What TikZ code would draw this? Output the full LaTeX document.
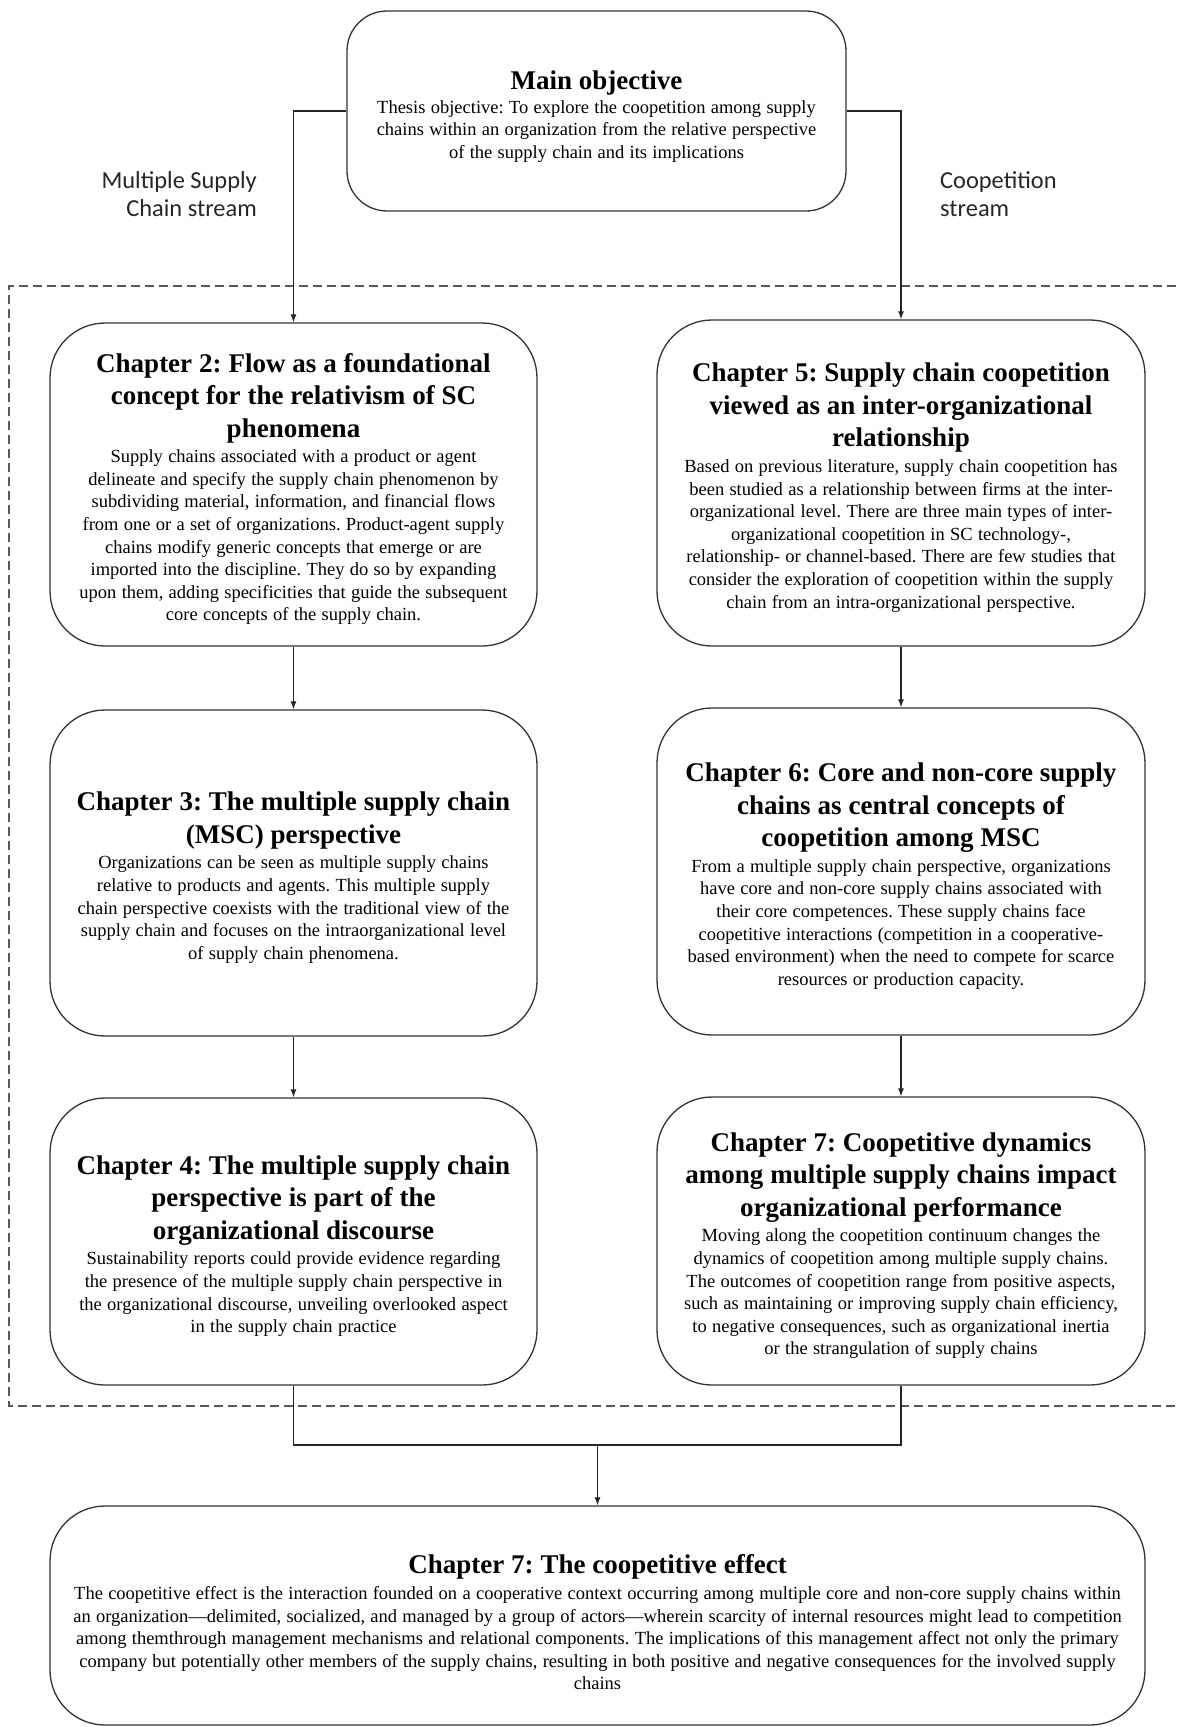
\documentclass[tikz,border=0pt]{standalone}
\usepackage{fontspec}
\setmainfont{Liberation Serif}
\newfontfamily\labelfont{Carlito}
\usetikzlibrary{arrows.meta}
\frenchspacing
\newcommand\chtitle{\fontsize{27}{32.5}\selectfont\bfseries\frenchspacing\spaceskip=6.9pt\relax}
\newcommand\chbody{\fontsize{18.5}{22.6}\selectfont\frenchspacing\spaceskip=5.3pt\relax}
% strut that sets the space above the first title line
\newcommand\topstrut[1]{\rule{0pt}{#1}}
\tikzset{
  box/.style={draw=black!80, line width=1.3pt, fill=white, rounded corners=55pt,
    align=flush center, inner sep=0pt},
  chbox/.style={box, minimum width=487pt, text width=478pt},
  link/.style={draw=black!85, line width=1.2pt},
  arr/.style={link, -{Latex[length=8pt,width=6pt]}},
  streamlbl/.style={font=\labelfont\fontsize{24.4}{28.6}\selectfont, inner sep=0pt, text=black!85},
  frame/.style={draw=black!65, line width=1.2pt, dash pattern=on 9pt off 5pt}
}
\begin{document}
\begin{tikzpicture}[x=1pt,y=-1pt]
\useasboundingbox (0,0) rectangle (1176,1727);

% dashed frame around the chapter boxes (open on the right)
\draw[frame] (1190,286) -- (9,286) -- (9,1406) -- (1190,1406);

% main objective
\node[box, rounded corners=40pt, minimum width=499pt, minimum height=200pt, text width=492pt] (main) at (596.5,111)
  {{\chtitle\topstrut{30pt}Main objective\par}\vspace{1pt}{\chbody Thesis objective: To explore the coopetition among supply\\chains within an organization from the relative perspective\\of the supply chain and its implications\par}};

% stream labels
\node[streamlbl, anchor=east, align=right] (lblL) at (257,194) {Multiple Supply\\Chain stream};
\node[streamlbl, anchor=west, align=left] (lblR) at (940,194) {Coopetition\\stream};

% left column
\node[chbox, minimum height=323pt] (ch2) at (293.5,484.5)
  {{\chtitle\topstrut{28pt}Chapter 2: Flow as a foundational\\concept for the relativism of SC\\phenomena\par}\vspace{3pt}{\chbody Supply chains associated with a product or agent\\delineate and specify the supply chain phenomenon by\\subdividing material, information, and financial flows\\from one or a set of organizations. Product-agent supply\\chains modify generic concepts that emerge or are\\imported into the discipline. They do so by expanding\\upon them, adding specificities that guide the subsequent\\core concepts of the supply chain.\par}};

\node[chbox, minimum height=326pt] (ch3) at (293.5,873)
  {{\chtitle\topstrut{28pt}Chapter 3: The multiple supply chain\\(MSC) perspective\par}\vspace{3pt}{\chbody Organizations can be seen as multiple supply chains\\relative to products and agents. This multiple supply\\chain perspective coexists with the traditional view of the\\supply chain and focuses on the intraorganizational level\\of supply chain phenomena.\par}};

\node[chbox, minimum height=287pt] (ch4) at (293.5,1241.5)
  {{\chtitle\topstrut{28pt}Chapter 4: The multiple supply chain\\perspective is part of the\\organizational discourse\par}\vspace{3pt}{\chbody Sustainability reports could provide evidence regarding\\the presence of the multiple supply chain perspective in\\the organizational discourse, unveiling overlooked aspect\\in the supply chain practice\par}};

% right column
\node[chbox, minimum width=488pt, minimum height=326pt] (ch5) at (901,483)
  {{\chtitle\topstrut{28pt}Chapter 5: Supply chain coopetition\\viewed as an inter-organizational\\relationship\par}\vspace{3pt}{\chbody Based on previous literature, supply chain coopetition has\\been studied as a relationship between firms at the inter-\\organizational level. There are three main types of inter-\\organizational coopetition in SC technology-,\\relationship- or channel-based. There are few studies that\\consider the exploration of coopetition within the supply\\chain from an intra-organizational perspective.\par}};

\node[chbox, minimum width=488pt, minimum height=327pt] (ch6) at (901,871.5)
  {{\chtitle\topstrut{28pt}Chapter 6: Core and non-core supply\\chains as central concepts of\\coopetition among MSC\par}\vspace{3pt}{\chbody From a multiple supply chain perspective, organizations\\have core and non-core supply chains associated with\\their core competences. These supply chains face\\coopetitive interactions (competition in a cooperative-\\based environment) when the need to compete for scarce\\resources or production capacity.\par}};

\node[chbox, minimum width=488pt, minimum height=288pt] (ch7) at (901,1241)
  {{\chtitle\topstrut{28pt}Chapter 7: Coopetitive dynamics\\among multiple supply chains impact\\organizational performance\par}\vspace{3pt}{\chbody Moving along the coopetition continuum changes the\\dynamics of coopetition among multiple supply chains.\\The outcomes of coopetition range from positive aspects,\\such as maintaining or improving supply chain efficiency,\\to negative consequences, such as organizational inertia\\or the strangulation of supply chains\par}};

% synthesis box
\node[box, minimum width=1095pt, minimum height=219pt, text width=1090pt] (effect) at (597.5,1615.5)
  {{\chtitle\topstrut{33pt}Chapter 7: The coopetitive effect\par}\vspace{3pt}{\chbody The coopetitive effect is the interaction founded on a cooperative context occurring among multiple core and non-core supply chains within\\an organization—delimited, socialized, and managed by a group of actors—wherein scarcity of internal resources might lead to competition\\among themthrough management mechanisms and relational components. The implications of this management affect not only the primary\\company but potentially other members of the supply chains, resulting in both positive and negative consequences for the involved supply\\chains\par}};

% connectors
\draw[arr] (main.west) -| (ch2.north);
\draw[arr] (main.east) -| (ch5.north);
\draw[arr] (ch2.south) -- (ch3.north);
\draw[arr] (ch3.south) -- (ch4.north);
\draw[arr] (ch5.south) -- (ch6.north);
\draw[arr] (ch6.south) -- (ch7.north);
\coordinate (join) at (597.5,1445);
\draw[link] (ch4.south) |- (join) -| (ch7.south);
\draw[arr] (join) -- (effect.north);
\end{tikzpicture}
\end{document}
